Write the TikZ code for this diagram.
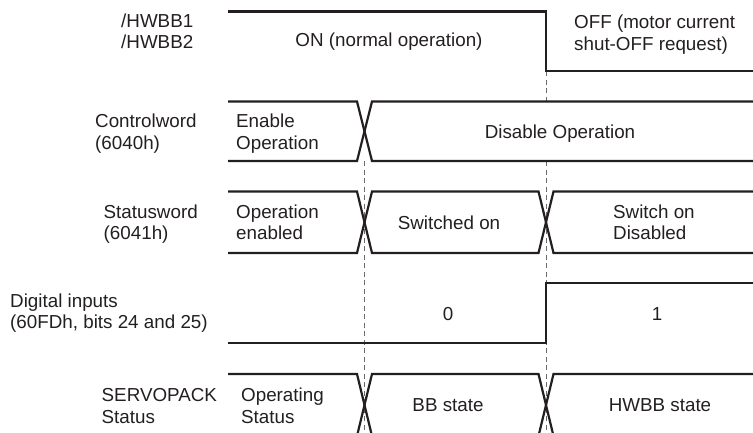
\documentclass[tikz,border=0pt]{standalone}
\usepackage{fontspec}
\setmainfont{Liberation Sans}
\definecolor{ink}{HTML}{231F20}
\definecolor{guide}{HTML}{6A6A6A}
\tikzset{
  sig/.style={draw=ink, line width=2.2pt, line join=miter},
  guideline/.style={draw=guide, line width=0.9pt, dash pattern=on 5pt off 3.5pt},
  lbl/.style={font=\fontsize{18.8}{21.5}\selectfont, inner sep=0pt, align=left, text=ink, anchor=base west},
  mid/.style={font=\fontsize{18.8}{21.5}\selectfont, inner sep=0pt, text=ink, anchor=base}
}
\begin{document}
\begin{tikzpicture}[x=1pt,y=-1pt]
\useasboundingbox (0,0) rectangle (753,432);
\clip (0,0) rectangle (753,432);
% guide lines
\coordinate (g1top) at (364.5,161);
\coordinate (g1bot) at (364.5,440);
\coordinate (g2a) at (546,71);
\coordinate (g2b) at (546,101.5);
\coordinate (g2c) at (546,161);
\coordinate (g2d) at (546,440);
\draw[guideline] (g1top) -- (g1bot);
\draw[guideline] (g2a) -- (g2b);
\draw[guideline] (g2c) -- (g2d);
% row 1: /HWBB
\draw[sig] (228,11.5) -- (546,11.5) -- (546,71) -- (760,71);
% row 2: Controlword
\draw[sig] (228,101.5) -- (357,101.5) -- (372,161) -- (760,161);
\draw[sig] (228,161) -- (357,161) -- (372,101.5) -- (760,101.5);
% row 3: Statusword
\draw[sig] (228,191.5) -- (357,191.5) -- (372,253) -- (538.5,253) -- (553.5,191.5) -- (760,191.5);
\draw[sig] (228,253) -- (357,253) -- (372,191.5) -- (538.5,191.5) -- (553.5,253) -- (760,253);
% row 4: Digital inputs
\draw[sig] (228,343) -- (546,343) -- (546,283) -- (760,283);
% row 5: SERVOPACK status
\draw[sig] (228,374) -- (357,374) -- (372,436) -- (538.5,436) -- (553.5,374) -- (760,374);
\draw[sig] (228,436) -- (357,436) -- (372,374) -- (538.5,374) -- (553.5,436) -- (760,436);
% labels (anchor = baseline of the last line)
\node[lbl] (hw) at (121,48.5) {/HWBB1\\/HWBB2};
\node[mid] (on) at (389,46) {ON (normal operation)};
\node[lbl] (off) at (574,50) {OFF (motor current\\shut-OFF request)};
\node[lbl] (cw) at (95,149) {Controlword\\(6040h)};
\node[lbl] (en) at (236,149) {Enable\\Operation};
\node[mid] (dis) at (560,138) {Disable Operation};
\node[lbl] (sw) at (103.5,239.8) {Statusword\\(6041h)};
\node[lbl] (oe) at (236,239.8) {Operation\\enabled};
\node[mid] (so) at (449,229) {Switched on};
\node[lbl] (sd) at (613,239.8) {Switch on\\Disabled};
\node[lbl] (di) at (10,328.5) {Digital inputs\\(60FDh, bits 24 and 25)};
\node[mid] (zero) at (448,320) {0};
\node[mid] (one) at (657,320) {1};
\node[lbl] (sp) at (101.5,423) {SERVOPACK\\Status};
\node[lbl] (os) at (241,423) {Operating\\Status};
\node[mid] (bb) at (448,411.5) {BB state};
\node[mid] (hwbb) at (660,411.5) {HWBB state};
\end{tikzpicture}
\end{document}
